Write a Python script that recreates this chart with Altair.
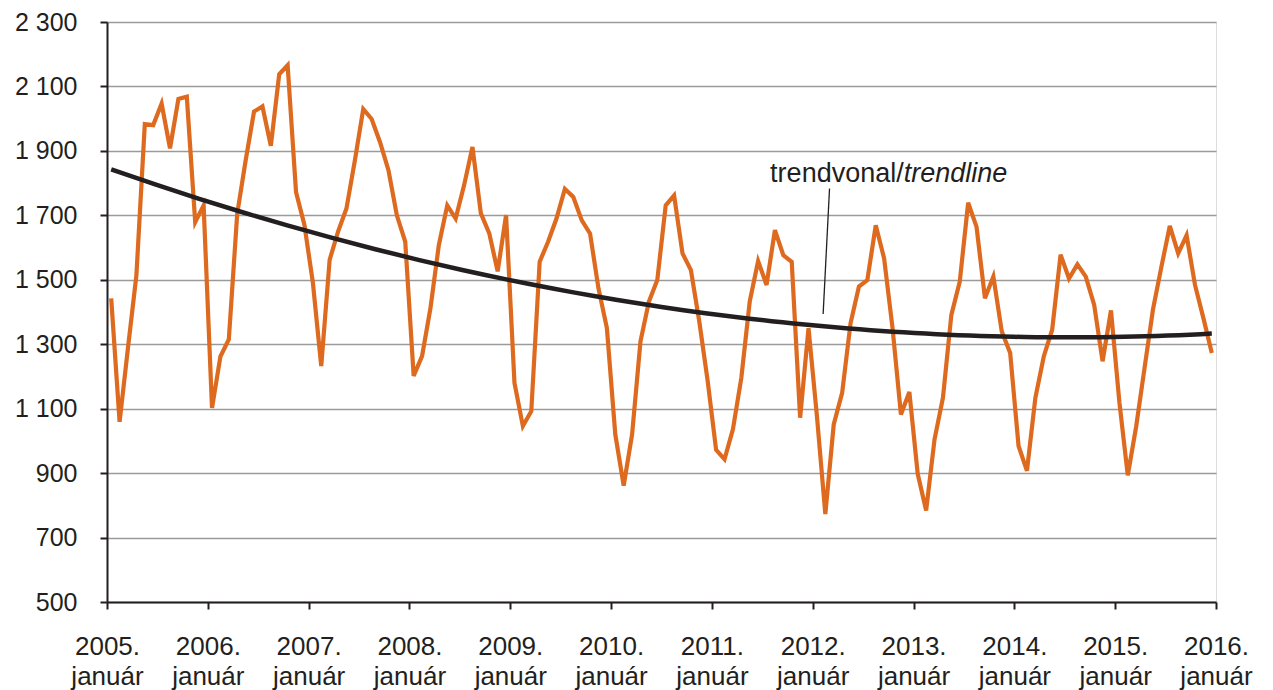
import altair as alt
import pandas as pd

# monthly values, 2005 January .. 2015 December
values = [
    1442, 1059, 1290, 1514, 1983, 1980, 2047, 1908, 2061, 2068, 1679, 1731,
    1102, 1262, 1315, 1705, 1870, 2022, 2038, 1916, 2138, 2166, 1772, 1670,
    1492, 1232, 1562, 1649, 1721, 1870, 2030, 1999, 1927, 1840, 1700, 1618,
    1202, 1263, 1412, 1608, 1731, 1690, 1793, 1912, 1706, 1644, 1526, 1701,
    1180, 1046, 1092, 1556, 1618, 1690, 1782, 1757, 1685, 1643, 1473, 1350,
    1020, 861, 1020, 1309, 1432, 1499, 1731, 1762, 1582, 1530, 1370, 1185,
    972, 943, 1036, 1195, 1432, 1558, 1484, 1654, 1576, 1556, 1072, 1350,
    1077, 773, 1051, 1149, 1365, 1479, 1499, 1669, 1566, 1350, 1082, 1152,
    897, 784, 1005, 1134, 1391, 1494, 1739, 1664, 1443, 1510, 1340, 1273,
    984, 907, 1134, 1262, 1345, 1578, 1504, 1548, 1510, 1422, 1247, 1405,
    1120, 893, 1045, 1227, 1408, 1540, 1667, 1582, 1638, 1484, 1381, 1273,
]
start_year = 2005
month_label = "január"
y_ticks = [500, 700, 900, 1100, 1300, 1500, 1700, 1900, 2100, 2300]
x_ticks = list(range(0, 133, 12))
annot_regular = "trendvonal/"
annot_italic = "trendline"

df = pd.DataFrame({"idx": [i + 0.5 for i in range(len(values))], "value": values})

FONT = "Liberation Sans"
TXT = "#231F20"

x_scale = alt.Scale(domain=[0, 132], nice=False, zero=False)
y_scale = alt.Scale(domain=[500, 2300], nice=False, zero=False)

x_axis = alt.Axis(
    values=x_ticks,
    labelExpr=f"[toString({start_year} + datum.value/12) + '.', '{month_label}']",
    title=None, grid=False, labelFlush=False, labelOverlap=False,
    labelFont=FONT, labelFontSize=26, labelColor=TXT, labelLineHeight=30,
    labelPadding=24, tickSize=7, tickColor=TXT, tickWidth=2,
    domainColor=TXT, domainWidth=2,
)
y_axis = alt.Axis(
    values=y_ticks,
    labelExpr="replace(format(datum.value, ','), ',', ' ')",
    title=None, grid=True, gridColor="#9A9A9A", gridWidth=1.5,
    labelFont=FONT, labelFontSize=25, labelColor=TXT,
    labelPadding=23, tickSize=7, tickColor=TXT, tickWidth=2,
    domainColor=TXT, domainWidth=2,
)

base = alt.Chart(df)

line = base.mark_line(color="#DD6A1F", strokeWidth=4.2, strokeJoin="miter").encode(
    x=alt.X("idx:Q", scale=x_scale, axis=x_axis),
    y=alt.Y("value:Q", scale=y_scale, axis=y_axis),
)

trend = base.transform_regression(
    "idx", "value", method="poly", order=2, extent=[0.5, 131.5]
).mark_line(color="#231F20", strokeWidth=4.5).encode(
    x=alt.X("idx:Q", scale=x_scale),
    y=alt.Y("value:Q", scale=y_scale),
)

leader_df = pd.DataFrame({"x": [86.0], "x2": [85.24], "y": [1783], "y2": [1394]})
leader = alt.Chart(leader_df).mark_rule(color=TXT, strokeWidth=1.3).encode(
    x=alt.X("x:Q", scale=x_scale), x2="x2:Q",
    y=alt.Y("y:Q", scale=y_scale), y2="y2:Q",
)

annot_df = pd.DataFrame({"x": [94.83], "y": [1805]})
t1 = alt.Chart(annot_df).mark_text(
    text=annot_regular, align="right", baseline="alphabetic",
    font=FONT, fontSize=27, color=TXT,
).encode(x=alt.X("x:Q", scale=x_scale), y=alt.Y("y:Q", scale=y_scale))
t2 = alt.Chart(annot_df).mark_text(
    text=annot_italic, align="left", baseline="alphabetic",
    font=FONT, fontSize=27, fontStyle="italic", color=TXT,
).encode(x=alt.X("x:Q", scale=x_scale), y=alt.Y("y:Q", scale=y_scale))

chart = alt.layer(line, trend, leader, t1, t2).properties(
    width=1109, height=580,
    autosize=alt.AutoSizeParams(type="none"),
    padding={"left": 99, "top": 14, "right": 40, "bottom": 100},
).configure_view(stroke=TXT, strokeWidth=2).configure(background="white")

chart.save("out.html", embed_options={"renderer": "svg", "actions": False})
